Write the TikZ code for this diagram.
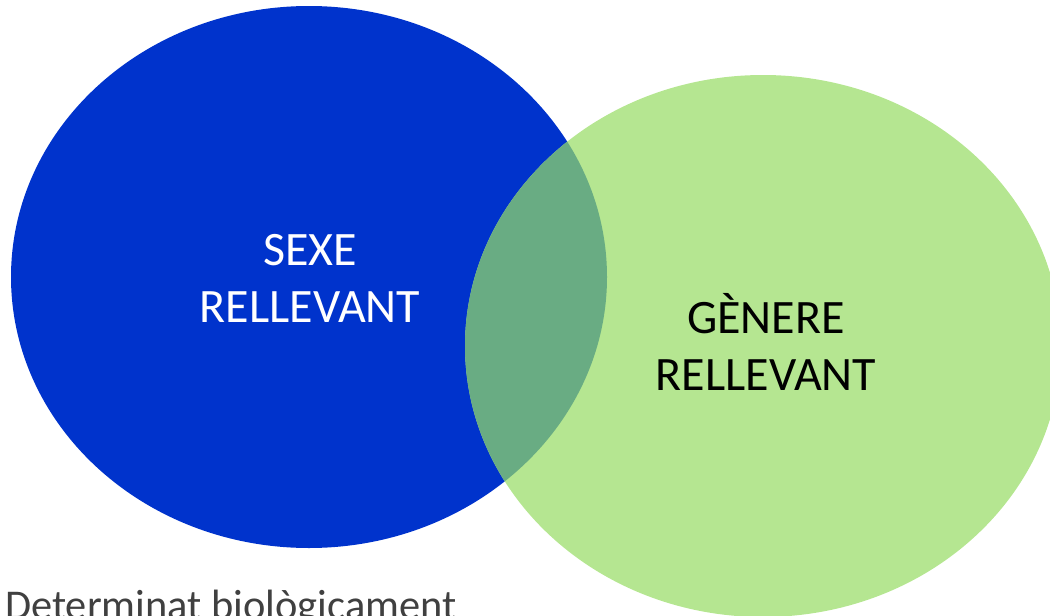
\documentclass[tikz,border=0pt]{standalone}
\usepackage{fontspec}
\setmainfont{Carlito}
\definecolor{sexblue}{HTML}{0033CC}
\definecolor{genegreen}{HTML}{B5E691}
\definecolor{overlapgreen}{HTML}{69AC83}
\definecolor{notegray}{HTML}{404040}
\begin{document}
\begin{tikzpicture}[x=1pt,y=-1pt,
  biglabel/.style={font=\fontsize{48}{57}\selectfont, anchor=base, inner sep=0pt},
  notelabel/.style={font=\fontsize{42.4}{50}\selectfont, anchor=base west, inner sep=0pt, text=notegray}]
\useasboundingbox (0,0) rectangle (1050,616);
\clip (0,0) rectangle (1050,616);
\fill[sexblue] (309,277) ellipse [x radius=298, y radius=271];
\fill[genegreen] (763,346) ellipse [x radius=298, y radius=271];
\begin{scope}
  \clip (309,277) ellipse [x radius=298, y radius=271];
  \fill[overlapgreen] (763,346) ellipse [x radius=298, y radius=271];
\end{scope}
\node[biglabel, text=white] (sexe1) at (310,265) {SEXE};
\node[biglabel, text=white] (sexe2) at (310,322) {RELLEVANT};
\node[biglabel, text=black] (gen1) at (766,333) {GÈNERE};
\node[biglabel, text=black] (gen2) at (766,390) {RELLEVANT};
\node[notelabel] (note) at (5,619) {Determinat biològicament};
\end{tikzpicture}
\end{document}
